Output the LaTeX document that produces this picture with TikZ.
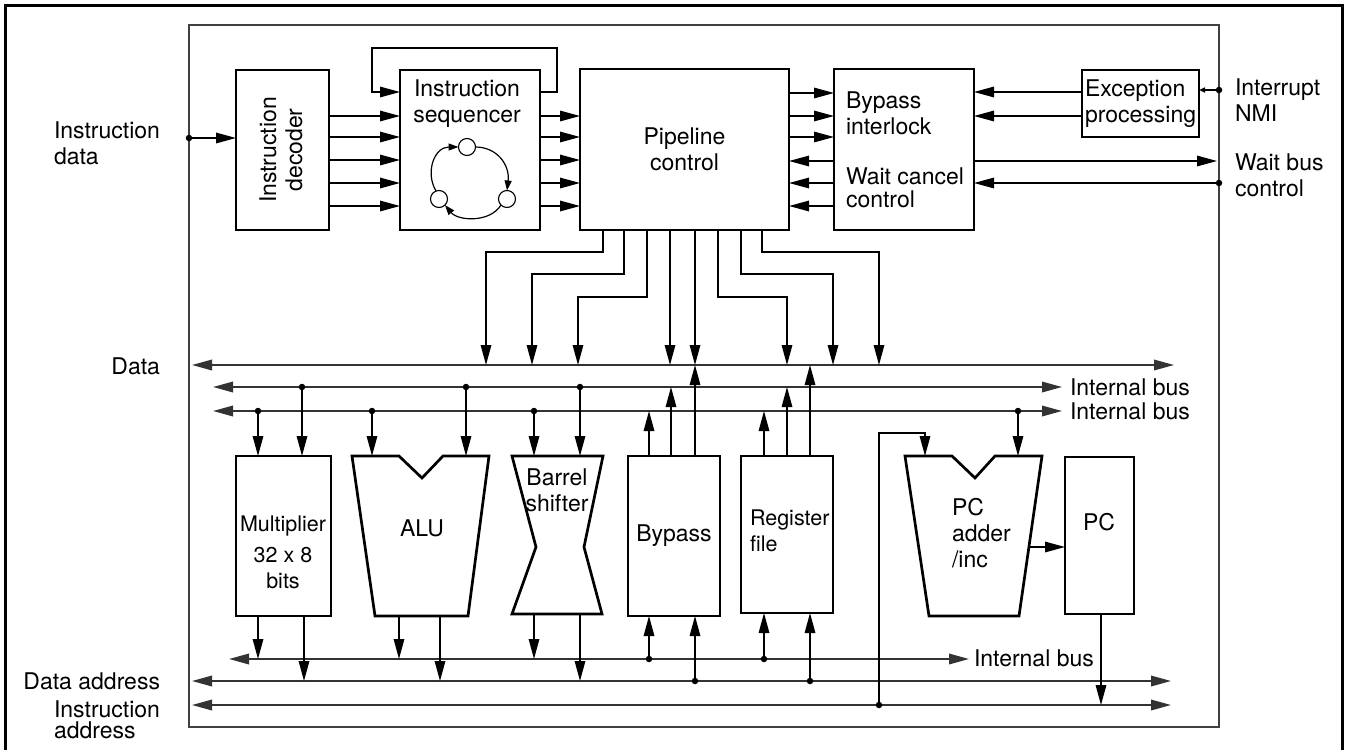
\documentclass[tikz,border=0pt]{standalone}
\usepackage{fontspec}
\setmainfont{TeX Gyre Heros}
\usetikzlibrary{arrows.meta}
\begin{document}
\begin{tikzpicture}[x=1pt,y=-1pt,
  font=\fontsize{23}{26}\selectfont,
  every node/.style={inner sep=0pt, outer sep=0pt},
  blk/.style={draw, line width=2.7pt},
  ln/.style={line width=1.5pt},
  bus/.style={line width=1.8pt, draw=black!80},
  arr/.style={-{Triangle[length=20pt,width=10.5pt]}},
  barr/.style={{Triangle[length=20pt,width=10.5pt]}-{Triangle[length=20pt,width=10.5pt]}},
  dot/.style={circle, fill, minimum size=6.5pt},
  ring/.style={circle, draw, line width=1.1pt, minimum size=17pt},
  carr/.style={line width=1.2pt, -{Triangle[length=10pt,width=7pt]}}
]
\useasboundingbox (0,0) rectangle (1345,750);
% frames
\draw[line width=3pt] (5,752) -- (5,5) -- (1342,5) -- (1342,752);
\draw[line width=1.6pt, black!75] (189,25) rectangle (1219,727);

% ---------- top blocks ----------
\node[blk, minimum width=93pt, minimum height=160pt] (dec) at (282.5,150) {};
\node[rotate=90, align=center] (dect) at (281,150) {Instruction\\decoder};
\node[blk, minimum width=140pt, minimum height=160pt] (seq) at (470,150) {};
\node[align=center] (seqt) at (467,104) {Instruction\\sequencer};
\node[blk, align=center, minimum width=209pt, minimum height=161pt] (pipe) at (684.5,149.5) {Pipeline\\control};
\node[blk, minimum width=140pt, minimum height=161pt] (byp) at (904,149.5) {};
\node[align=left, anchor=west] (bypt) at (846,113) {Bypass\\interlock};
\node[align=left, anchor=west, font=\fontsize{23}{23}\selectfont] (wct) at (846,188) {Wait cancel\\control};
\node[blk, minimum width=117pt, minimum height=67pt] (exc) at (1140.5,103.5) {};
\node[align=left, anchor=west] (exct) at (1085,104) {Exception\\processing};

% sequencer cycle
\node[ring] (c1) at (467,147) {};
\node[ring] (c2) at (439,199) {};
\node[ring] (c3) at (507,199) {};
\draw[carr] (c2.110) .. controls (425,173) and (434,147) .. (c1.west);
\draw[carr] (c1.east) .. controls (497,147) and (510,165) .. (c3.north);
\draw[carr] (c3.225) .. controls (490,223) and (458,221) .. (c2.315);

% labels outside
\node[align=left, anchor=west] (lid) at (54,143) {Instruction\\data};
\node[align=left, anchor=west] (lint) at (1235,100) {Interrupt\\NMI};
\node[align=left, anchor=west] (lwb) at (1235,175) {Wait bus\\control};

% top connectors
\node[dot] (d0) at (189,138) {};
\draw[ln,arr] (d0) -- (dec.west |- 0,138);
\foreach \y in {116,137,160,183,206} {
  \draw[ln,arr] (dec.east |- 0,\y) -- (seq.west |- 0,\y);
  \draw[ln,arr] (seq.east |- 0,\y) -- (pipe.west |- 0,\y);
}
\draw[ln,arr] (seq.east |- 0,92) -- (557,92) -- (557,48) -- (372,48) -- (372,92) -- (seq.west |- 0,92);
\foreach \y in {93,116,137}
  \draw[ln,arr] (pipe.east |- 0,\y) -- (byp.west |- 0,\y);
\foreach \y in {161,183,206}
  \draw[ln,arr] (byp.west |- 0,\y) -- (pipe.east |- 0,\y);
\foreach \y in {92,116}
  \draw[ln,arr] (exc.west |- 0,\y) -- (byp.east |- 0,\y);
\node[dot] (dint) at (1219,90) {};
\draw[ln,-{Triangle[length=6pt,width=5pt]}] (dint) -- (exc.east |- 0,90);
\coordinate (wbo) at (1217,161);
\draw[ln,arr] (byp.east |- wbo) -- (wbo);
\node[dot] (dwb) at (1219,183) {};
\draw[ln,arr] (dwb) -- (byp.east |- 0,183);

% ---------- buses ----------
\coordinate (dataL) at (192,365);  \coordinate (dataR) at (1174,365);
\coordinate (ib1L) at (213,387);   \coordinate (ib1R) at (1062,387);
\coordinate (ib2L) at (213,411);   \coordinate (ib2R) at (1062,411);
\coordinate (ib3L) at (229,659);   \coordinate (ib3R) at (969,659);
\coordinate (daL) at (192,681);    \coordinate (daR) at (1171,681);
\coordinate (iaL) at (192,705);    \coordinate (iaR) at (1171,705);
\draw[bus,barr] (dataL) -- (dataR);
\draw[bus,barr] (ib1L) -- (ib1R);
\draw[bus,barr] (ib2L) -- (ib2R);
\draw[bus,barr] (ib3L) -- (ib3R);
\draw[bus,barr] (daL) -- (daR);
\draw[bus,barr] (iaL) -- (iaR);

\node[anchor=east] (ldata) at (160,366) {Data};
\node[anchor=east] (lda) at (160,681) {Data address};
\node[align=left, anchor=east, font=\fontsize{23}{21}\selectfont] (lia) at (160,720) {Instruction\\address};
\node[anchor=west] (lib1) at (1070,387) {Internal bus};
\node[anchor=west] (lib2) at (1070,411) {Internal bus};
\node[anchor=west] (lib3) at (974,658) {Internal bus};

% pipeline control to data bus
\draw[ln,arr] (pipe.south -| 603,0) -- (603,252) -- (486,252) -- (486,365);
\draw[ln,arr] (pipe.south -| 624,0) -- (624,274) -- (532,274) -- (532,365);
\draw[ln,arr] (pipe.south -| 647,0) -- (647,297) -- (578,297) -- (578,365);
\draw[ln,arr] (pipe.south -| 670,0) -- (670,365);
\draw[ln,arr] (pipe.south -| 695,0) -- (695,365);
\draw[ln,arr] (pipe.south -| 718,0) -- (718,297) -- (787,297) -- (787,365);
\draw[ln,arr] (pipe.south -| 741,0) -- (741,274) -- (833,274) -- (833,365);
\draw[ln,arr] (pipe.south -| 762,0) -- (762,252) -- (879,252) -- (879,365);

% ---------- lower blocks ----------
\node[blk, minimum width=95pt, minimum height=160pt] (mul) at (283.5,536) {};
\node[align=center, font=\fontsize{21.5}{26}\selectfont] (mult) at (283,552) {Multiplier\\[5pt]32 x 8\\bits};
\draw[blk] (352,456) -- (399,456) -- (422,478) -- (443,456) -- (489,456) -- (468,616) -- (375,616) -- cycle;
\node (alut) at (422,528) {ALU};
\draw[blk] (512,456) -- (603,456) -- (584,547) -- (602,614) -- (512,614) -- (536,547) -- cycle;
\node[align=center] (bst) at (557,490) {Barrel\\shifter};
\node[blk, minimum width=92pt, minimum height=160pt] (bypb) at (674,536) {Bypass};
\node[blk, minimum width=92pt, minimum height=157pt] (reg) at (787,534.5) {};
\node[align=left, anchor=west, font=\fontsize{21.5}{26}\selectfont] (regt) at (750,531) {Register\\file};
\draw[blk] (905,456) -- (952,456) -- (975,478) -- (995,456) -- (1042,456) -- (1019,616) -- (929,616) -- cycle;
\node[align=left, anchor=west] (pcat) at (952,533) {PC\\adder\\/inc};
\node[blk, minimum width=69pt, minimum height=157pt] (pc) at (1099.5,535.5) {};
\node (pct) at (1099,522) {PC};

% inputs from internal buses
\foreach \x in {258,372,534}
  \draw[ln,arr] (\x,411) -- (\x,456);
\foreach \x in {302,466,580}
  \draw[ln,arr] (\x,387) -- (\x,456);
\draw[ln,arr] (1018,411) -- (1018,456);
\draw[ln,arr] (879,705) -- (879,433) -- (925,433) -- (925,456);

% bypass / register file up to buses
\draw[ln,arr] (bypb.north -| 649,0) -- (649,411);
\draw[ln,arr] (bypb.north -| 671,0) -- (671,387);
\draw[ln,arr] (bypb.north -| 695,0) -- (695,365);
\draw[ln,arr] (reg.north -| 764,0) -- (764,411);
\draw[ln,arr] (reg.north -| 787,0) -- (787,387);
\draw[ln,arr] (reg.north -| 810,0) -- (810,365);

% outputs downwards
\draw[ln,arr] (mul.south -| 258,0) -- (258,659);
\draw[ln,arr] (mul.south -| 304,0) -- (304,681);
\draw[ln,arr] (399,616) -- (399,659);
\draw[ln,arr] (440,616) -- (440,681);
\draw[ln,arr] (534,614) -- (534,659);
\draw[ln,arr] (580,614) -- (580,681);
\draw[ln,arr] (649,659) -- (bypb.south -| 649,0);
\draw[ln,arr] (695,681) -- (bypb.south -| 695,0);
\draw[ln,arr] (764,659) -- (reg.south -| 764,0);
\draw[ln,arr] (810,681) -- (reg.south -| 810,0);
\draw[ln,arr] (pc.south -| 1101,0) -- (1101,705);
\draw[ln,arr] (1029,547) -- (pc.west |- 0,547);

% junction dots
\foreach \x in {302,466,580} \node[dot] at (\x,387) {};
\foreach \x in {258,372,534,1018} \node[dot] at (\x,411) {};
\foreach \x in {649,764} \node[dot] at (\x,659) {};
\foreach \x in {695,810} \node[dot] at (\x,681) {};
\node[dot] at (879,705) {};
\end{tikzpicture}
\end{document}
